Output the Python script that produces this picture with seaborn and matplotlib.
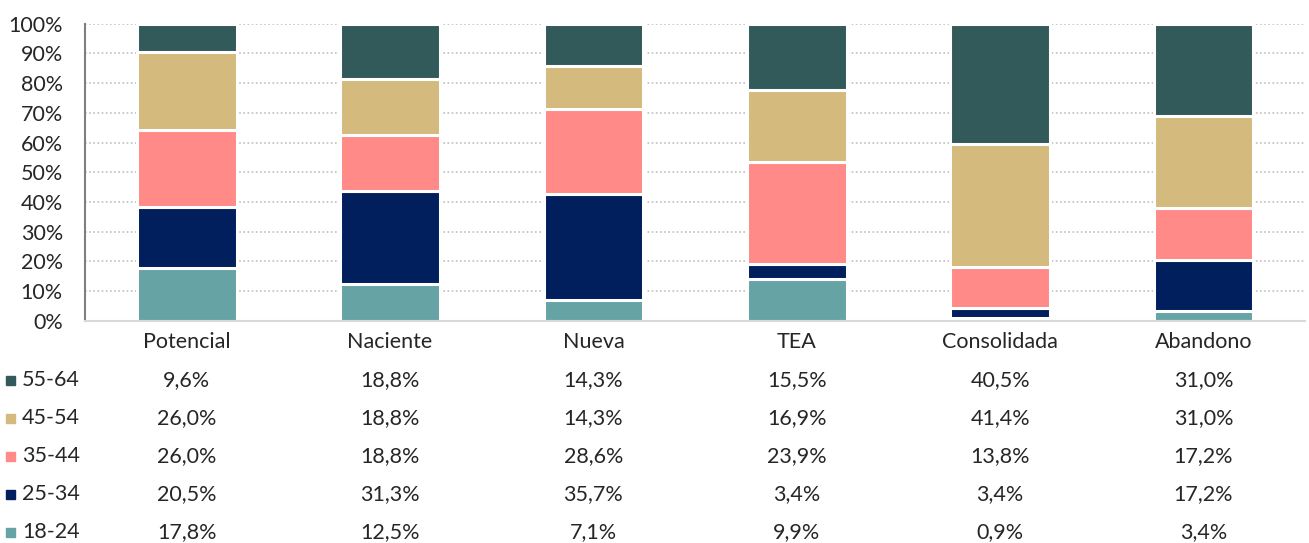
import matplotlib
matplotlib.use("Agg")
import matplotlib.pyplot as plt
import matplotlib.transforms as mtransforms
from matplotlib.patches import Rectangle
from matplotlib.ticker import PercentFormatter, MultipleLocator
import seaborn as sns
import pandas as pd

categories = ["Potencial", "Naciente", "Nueva", "TEA", "Consolidada", "Abandono"]
age_groups = ["55-64", "45-54", "35-44", "25-34", "18-24"]  # top to bottom
v_55_64 = [9.6, 18.8, 14.3, 15.5, 40.5, 31.0]
v_45_54 = [26.0, 18.8, 14.3, 16.9, 41.4, 31.0]
v_35_44 = [26.0, 18.8, 28.6, 23.9, 13.8, 17.2]
v_25_34 = [20.5, 31.3, 35.7, 3.4, 3.4, 17.2]
v_18_24 = [17.8, 12.5, 7.1, 9.9, 0.9, 3.4]
series = {"55-64": v_55_64, "45-54": v_45_54, "35-44": v_35_44,
          "25-34": v_25_34, "18-24": v_18_24}
colors = {"55-64": "#335A5A", "45-54": "#D4BA7C", "35-44": "#FF8A87",
          "25-34": "#001F5C", "18-24": "#66A3A5"}

rows = []
for g in age_groups:
    for c, v in zip(categories, series[g]):
        rows.append({"cat": c, "age": g, "val": v})
df = pd.DataFrame(rows)
df["cat"] = pd.Categorical(df["cat"], categories=categories, ordered=True)

sns.set_theme(style="white")
plt.rcParams["font.family"] = ["Lato", "DejaVu Sans"]
text_color = "#262626"
FS = 15.5

fig = plt.figure(figsize=(13.09, 5.43), dpi=100)
ax = fig.add_axes([0.065, 0.409, 0.932, 0.5475])

sns.histplot(data=df, x="cat", weights="val", hue="age", hue_order=age_groups,
             multiple="fill", discrete=True, shrink=0.49, palette=colors,
             edgecolor="white", linewidth=2.2, alpha=1, legend=False, ax=ax)

ax.set_xlim(-0.5, len(categories) - 0.5)
ax.set_ylim(0, 1)
ax.yaxis.set_major_locator(MultipleLocator(0.1))
ax.yaxis.set_major_formatter(PercentFormatter(1.0, decimals=0))
ax.set_xlabel("")
ax.set_ylabel("")
ax.set_xticks(range(len(categories)))
ax.set_xticklabels(categories)
ax.tick_params(axis="y", length=0, pad=16, labelsize=FS, labelcolor=text_color)
ax.tick_params(axis="x", length=0, pad=8, labelsize=FS, labelcolor=text_color)
ax.grid(axis="y", linestyle=(0, (1, 1.5)), color="#BFBFBF", linewidth=1.2)
ax.set_axisbelow(True)
for s in ["top", "right"]:
    ax.spines[s].set_visible(False)
ax.spines["left"].set_color("#7F7F7F")
ax.spines["left"].set_linewidth(1.5)
ax.spines["bottom"].set_color("#D9D9D9")
ax.spines["bottom"].set_linewidth(1.5)

# data table below
H = 543.0
row_y = [380, 418, 456, 494, 532]
trans = mtransforms.blended_transform_factory(ax.transData, fig.transFigure)
for g, yp in zip(age_groups, row_y):
    yf = 1 - yp / H
    fig.patches.append(Rectangle((6 / 1309, yf - 4.5 / H), 9 / 1309, 9 / H,
                                 transform=fig.transFigure, color=colors[g],
                                 figure=fig))
    fig.text(22 / 1309, yf, g, ha="left", va="center", fontsize=FS,
             color=text_color)
    for i, v in enumerate(series[g]):
        ax.text(i, yf, f"{v:.1f}%".replace(".", ","), transform=trans,
                ha="center", va="center", fontsize=FS, color=text_color,
                clip_on=False)

fig.savefig("out.png", dpi=100)
